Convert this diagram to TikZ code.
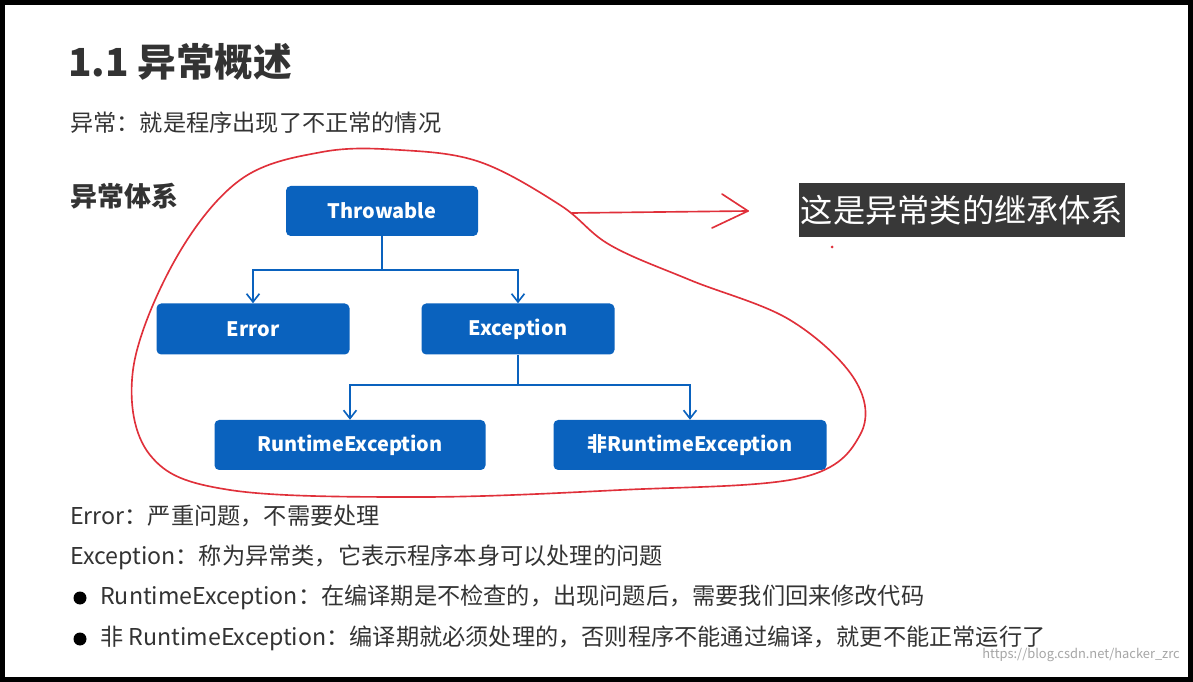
\documentclass[tikz,border=0pt]{standalone}
\usepackage{fontspec}
\setmainfont{Noto Sans CJK SC}
\usetikzlibrary{arrows.meta}
\definecolor{boxblue}{HTML}{0A62BE}
\definecolor{txt}{HTML}{333333}
\definecolor{pen}{HTML}{E0303A}
\tikzset{
 bx/.style={fill=boxblue,rounded corners=4pt,text=white,font=\fontsize{17}{20}\selectfont\bfseries,inner sep=0pt},
 conn/.style={draw=boxblue,line width=1.4pt,-{Straight Barb[length=7pt,width=11pt]}},
 body/.style={anchor=west,text=txt,font=\fontsize{19.8}{23}\selectfont,inner sep=0pt},
 redpen/.style={draw=pen,line width=1.4pt,line cap=round,line join=round}
}
\begin{document}
\begin{tikzpicture}[x=0.03cm,y=-0.03cm]
\useasboundingbox (0,0) rectangle (1193,682);
\fill[white] (0,0) rectangle (1193,682);
\draw[black,line width=5pt] (2,2) rectangle (1191,680);
\node[anchor=west,font=\fontsize{33}{38}\selectfont\bfseries,text=txt] (title) at (64,62) {1.1 异常概述};
\node[body] (def) at (70,123) {异常：就是程序出现了不正常的情况};
\node[anchor=west,font=\fontsize{23}{27}\selectfont\bfseries,text=txt,inner sep=0pt] (sys) at (70,196) {异常体系};
\node[bx,minimum width=192*0.03cm,minimum height=50*0.03cm] (thr) at (382,211) {Throwable};
\node[bx,minimum width=193*0.03cm,minimum height=51*0.03cm] (err) at (253,329) {Error};
\node[bx,minimum width=193*0.03cm,minimum height=51*0.03cm] (exc) at (518,329) {Exception};
\node[bx,minimum width=271*0.03cm,minimum height=50*0.03cm] (rt) at (350,445) {RuntimeException};
\node[bx,minimum width=273*0.03cm,minimum height=50*0.03cm] (nrt) at (690,445) {非RuntimeException};
\coordinate (j1) at (382,270);
\coordinate (j2) at (518,385);
\draw[boxblue,line width=1.4pt] (thr.south) -- (j1);
\draw[conn] (j1) -| (err.north);
\draw[conn] (j1) -| (exc.north);
\draw[boxblue,line width=1.4pt] (exc.south) -- (j2);
\draw[conn] (j2) -| (rt.north);
\draw[conn] (j2) -| (nrt.north);
\node[fill=black!78,text=white,font=\fontsize{27.5}{31}\selectfont,minimum width=326*0.03cm,minimum height=54*0.03cm,inner sep=0pt] (lab) at (962,210) {这是异常类的继承体系};
\draw[redpen] plot[smooth cycle,tension=0.6] coordinates {(322,152) (240,180) (175,260) (133,370) (150,455) (230,490) (420,497) (620,490) (800,478) (860,435) (855,380) (790,320) (690,280) (610,245) (560,205) (480,162) (400,150)};
\coordinate (ra) at (572,213);
\coordinate (rb) at (748,211);
\draw[redpen] (ra) -- (rb);
\draw[redpen] (722,194) -- (rb) -- (712,228);
\fill[pen] (832,247) circle (1.5);
\node[body] (l1) at (70,516) {Error：严重问题，不需要处理};
\node[body] (l2) at (70,557) {Exception：称为异常类，它表示程序本身可以处理的问题};
\fill[black] (80,598) circle (6.5);
\node[body] (l3) at (100,597) {RuntimeException：在编译期是不检查的，出现问题后，需要我们回来修改代码};
\fill[black] (80,639) circle (6.5);
\node[body] (l4) at (100,638) {非 RuntimeException：编译期就必须处理的，否则程序不能通过编译，就更不能正常运行了};
\node[anchor=east,text=black!35,font=\fontsize{11}{13}\selectfont,inner sep=0pt] (wm) at (1180,655) {https://blog.csdn.net/hacker\_zrc};
\end{tikzpicture}
\end{document}
